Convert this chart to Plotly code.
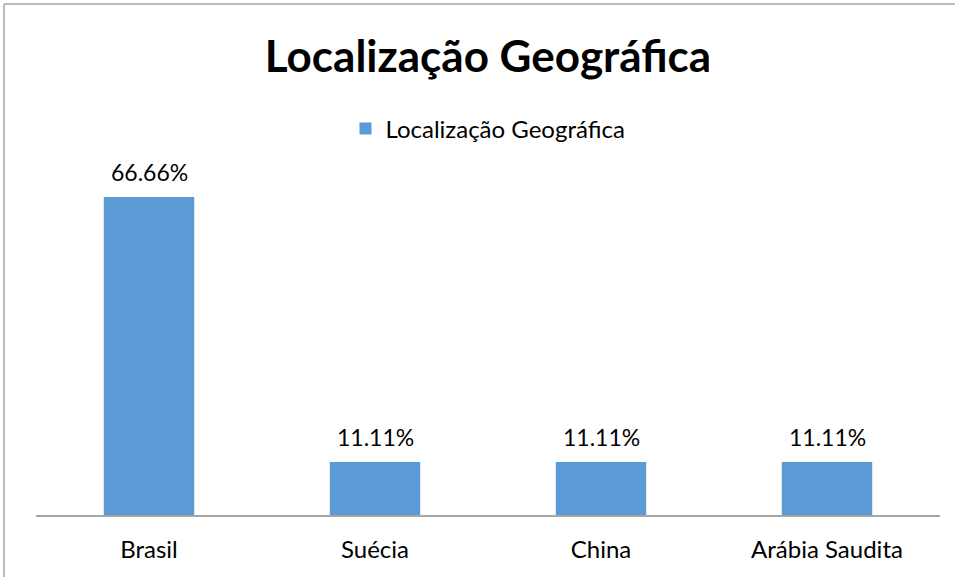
import plotly.graph_objects as go

categories = ["Brasil", "Suécia", "China", "Arábia Saudita"]
values = [66.66, 11.11, 11.11, 11.11]
labels = ["66.66%", "11.11%", "11.11%", "11.11%"]
series_name = "Localização Geográfica"
title_text = "Localização Geográfica"

W, H = 955, 577
L, R, T, B = 36, 15, 181, 62
pw = W - L - R
ph = H - T - B
FONT = "Lato"

fig = go.Figure()
fig.add_trace(go.Bar(
    x=categories, y=values, name=series_name,
    marker=dict(color="#5B9BD5", line=dict(width=0)),
    showlegend=True,
))

def px_to_paper_x(px):
    return (px - L) / pw

def px_to_paper_y(py):
    return (H - B - py) / ph

annotations = [
    dict(x=c, y=v, xref="x", yref="y", text=t, showarrow=False,
         yanchor="middle", yshift=25,
         font=dict(family=FONT, size=23, color="#000000"))
    for c, v, t in zip(categories, values, labels)
]

border = dict(color="#a6a6a6", width=1.5)

fig.update_layout(
    width=W, height=H,
    margin=dict(l=L, r=R, t=T, b=B),
    paper_bgcolor="white", plot_bgcolor="white",
    bargap=0.6,
    title=dict(text="<b>" + title_text + "</b>", x=0.5, xref="paper", xanchor="center",
               y=1 - 57 / H, yanchor="middle",
               font=dict(family=FONT, size=44, color="#000000")),
    legend=dict(orientation="h", x=0.5, xanchor="center", y=px_to_paper_y(129), yanchor="middle",
                font=dict(family=FONT, size=24, color="#000000"), itemwidth=30),
    xaxis=dict(showline=True, linecolor="#a6a6a6", linewidth=1.5, ticks="outside",
               ticklen=12, tickcolor="rgba(0,0,0,0)",
               tickfont=dict(family=FONT, size=24, color="#000000"), showgrid=False),
    yaxis=dict(range=[0, 70], showgrid=False, showticklabels=False, zeroline=False, showline=False),
    annotations=annotations,
    shapes=[
        dict(type="line", xref="paper", yref="paper",
             x0=px_to_paper_x(4), x1=px_to_paper_x(W + 5),
             y0=px_to_paper_y(4), y1=px_to_paper_y(4), line=border, layer="below"),
        dict(type="line", xref="paper", yref="paper",
             x0=px_to_paper_x(4), x1=px_to_paper_x(4),
             y0=px_to_paper_y(4), y1=px_to_paper_y(H + 5), line=border, layer="below"),
    ],
)

fig.write_html("out.html", config={"displayModeBar": False},
               post_script="document.body.style.margin='0';document.body.style.overflow='hidden';")
